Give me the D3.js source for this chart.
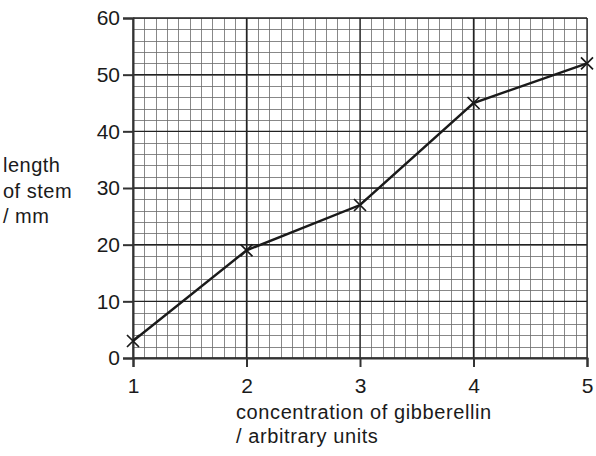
<!DOCTYPE html>
<html>
<head>
<meta charset="utf-8">
<script src="https://cdn.jsdelivr.net/npm/d3@7"></script>
<style>
  body { margin: 0; background: #fff; }
  text { font-family: "Liberation Sans", Arial, sans-serif; fill: #1a1a1a; }
</style>
</head>
<body>
<svg id="chart" width="596" height="456"></svg>
<script>
// data
var concentration = [1, 2, 3, 4, 5];
var stemLength = [3, 19, 27, 45, 52];
var xTicks = [1, 2, 3, 4, 5];
var yTicks = [0, 10, 20, 30, 40, 50, 60];
var yLabelLines = ['length', 'of stem', '/ mm'];
var xLabelLines = ['concentration of gibberellin', '/ arbitrary units'];

var svg = d3.select('#chart');

// plot box (careful: "top" is taken by window)
var plotL = 133, plotR = 587, plotT = 18, plotB = 358;

var x = d3.scaleLinear().domain([1, 5]).range([plotL, plotR]);
var y = d3.scaleLinear().domain([0, 60]).range([plotB, plotT]);

// graph paper - minor lines every 0.1 unit / 2 mm
var grid = svg.append('g');
var minorX = d3.range(1, 5.0001, 0.1);
var minorY = d3.range(0, 60.001, 2);

grid.selectAll('line.mx').data(minorX).enter().append('line')
    .attr('x1', d => Math.round(x(d)) + 0.5).attr('x2', d => Math.round(x(d)) + 0.5)
    .attr('y1', plotT).attr('y2', plotB)
    .style('stroke', '#6a6a6a').style('stroke-width', 0.8);
grid.selectAll('line.my').data(minorY).enter().append('line')
    .attr('y1', d => Math.round(y(d)) + 0.5).attr('y2', d => Math.round(y(d)) + 0.5)
    .attr('x1', plotL).attr('x2', plotR)
    .style('stroke', '#6a6a6a').style('stroke-width', 0.8);

// major lines every unit / 10 mm
grid.selectAll('line.Mx').data(xTicks).enter().append('line')
    .attr('x1', d => x(d)).attr('x2', d => x(d))
    .attr('y1', plotT).attr('y2', plotB)
    .style('stroke', '#222').style('stroke-width', 1.3);
grid.selectAll('line.My').data(yTicks).enter().append('line')
    .attr('y1', d => y(d)).attr('y2', d => y(d))
    .attr('x1', plotL).attr('x2', plotR)
    .style('stroke', '#222').style('stroke-width', 1.3);

// axes
var xAxis = svg.append('g').attr('transform', 'translate(0,' + plotB + ')')
    .call(d3.axisBottom(x).tickValues(xTicks).tickFormat(d3.format('d')).tickSize(9).tickPadding(11));
var yAxis = svg.append('g').attr('transform', 'translate(' + plotL + ',0)')
    .call(d3.axisLeft(y).tickValues(yTicks).tickSize(10).tickPadding(3));

[xAxis, yAxis].forEach(function(a){
    a.select('.domain').style('stroke', '#333').style('stroke-width', 2);
    a.selectAll('.tick line').style('stroke', '#333').style('stroke-width', 2);
    a.selectAll('.tick text').style('font-size', '21px').style('fill', '#1a1a1a')
        .style('font-family', '"Liberation Sans", Arial, sans-serif');
});

// the line and the crosses
var pts = concentration.map((c, i) => [c, stemLength[i]]);
svg.append('path').datum(pts)
    .attr('d', d3.line().x(d => x(d[0])).y(d => y(d[1])))
    .style('fill', 'none').style('stroke', '#1a1a1a').style('stroke-width', 2.4);

var s = 6;
svg.selectAll('path.cross').data(pts).enter().append('path')
    .attr('d', d => {
        var cx = x(d[0]), cy = y(d[1]);
        return 'M' + (cx - s) + ',' + (cy - s) + 'L' + (cx + s) + ',' + (cy + s) +
               'M' + (cx - s) + ',' + (cy + s) + 'L' + (cx + s) + ',' + (cy - s);
    })
    .style('stroke', '#1a1a1a').style('stroke-width', 1.7);

// axis titles
svg.append('g').selectAll('text').data(yLabelLines).enter().append('text')
    .attr('x', 3).attr('y', (d, i) => 172 + i * 25.5)
    .style('font-size', '20px').style('letter-spacing', '0.5px').text(d => d);

svg.append('g').selectAll('text').data(xLabelLines).enter().append('text')
    .attr('x', 236).attr('y', (d, i) => 419 + i * 24)
    .style('font-size', '20px').style('letter-spacing', '0.6px').text(d => d);
</script>
</body>
</html>
